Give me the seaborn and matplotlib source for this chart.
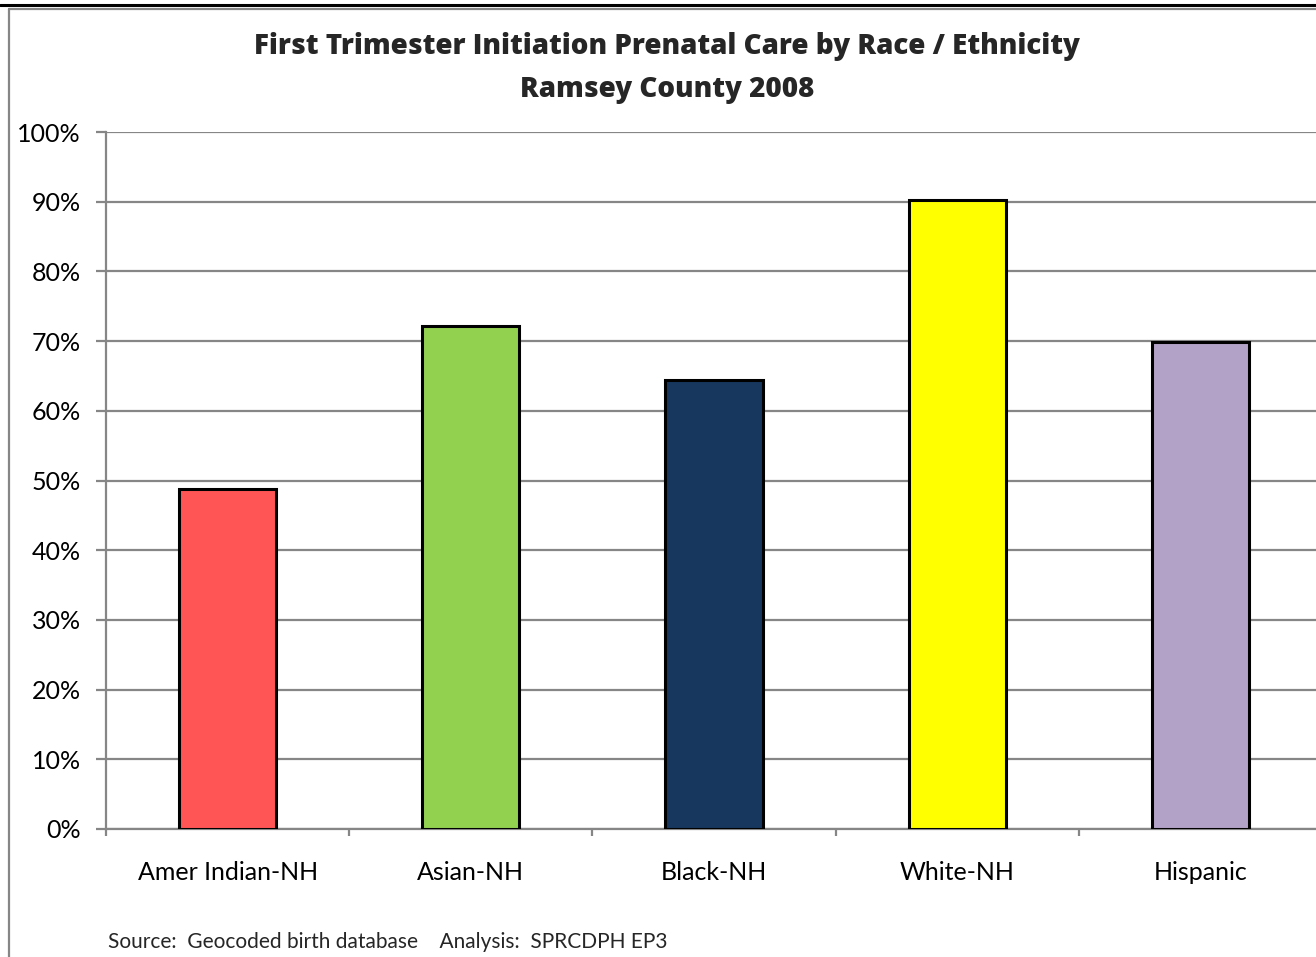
import matplotlib
matplotlib.use("Agg")
import matplotlib.pyplot as plt
from matplotlib.lines import Line2D
from matplotlib.ticker import FixedLocator, PercentFormatter
import seaborn as sns
import pandas as pd

# Percent of births with prenatal care begun in the first trimester
groups = ["Amer Indian-NH", "Asian-NH", "Black-NH", "White-NH", "Hispanic"]
pct = [48.8, 72.1, 64.4, 90.3, 69.9]
bar_colors = ["#FF5555", "#92D050", "#17375E", "#FFFF00", "#B3A2C7"]
y_ticks = [0, 10, 20, 30, 40, 50, 60, 70, 80, 90, 100]

title = "First Trimester Initiation Prenatal Care by Race / Ethnicity\nRamsey County 2008"
source = "Source:  Geocoded birth database    Analysis:  SPRCDPH EP3"

df = pd.DataFrame({"group": groups, "pct": pct})

sns.set_style("white")
plt.rcParams["font.family"] = ["Lato", "DejaVu Sans"]

W, H = 1316, 957
fig = plt.figure(figsize=(W / 100, H / 100), dpi=100)
fig.patch.set_facecolor("white")

# plot area in pixel terms: left 106, right 1322 (runs past the edge), top 132, bottom 829
ax = fig.add_axes([106 / W, (H - 829) / H, (1322 - 106) / W, (829 - 132) / H])

sns.barplot(data=df, x="group", y="pct", hue="group", palette=bar_colors,
            order=groups, hue_order=groups, legend=False, saturation=1,
            width=0.4, edgecolor="black", linewidth=2.2, ax=ax, zorder=3)

grid_c = "#868686"
ax.set_ylim(0, 100)
ax.set_xlim(-0.5, len(groups) - 0.5)
ax.yaxis.set_major_locator(FixedLocator(y_ticks))
ax.yaxis.set_major_formatter(PercentFormatter(decimals=0))
ax.grid(axis="y", color=grid_c, linewidth=1.6, zorder=0)
ax.set_axisbelow(True)

for side in ["top", "right"]:
    ax.spines[side].set_visible(False)
for side in ["left", "bottom"]:
    ax.spines[side].set_color(grid_c)
    ax.spines[side].set_linewidth(1.6)

ax.tick_params(axis="y", which="major", direction="out", length=7, width=1.6,
               color=grid_c, pad=11, labelsize=18, labelcolor="black", left=True)
# category labels at centres, tick marks at category boundaries
ax.tick_params(axis="x", which="major", length=0, pad=23, labelsize=18,
               labelcolor="black")
ax.set_xticks([i - 0.5 for i in range(len(groups) + 1)], minor=True)
ax.tick_params(axis="x", which="minor", direction="out", length=5, width=1.6,
               color=grid_c, bottom=True)
ax.set_xlabel("")
ax.set_ylabel("")

fig.text(667 / W, 1 - 68 / H, title, ha="center", va="center",
         fontsize=20, fontweight="heavy", linespacing=1.6,
         family=["Open Sans", "DejaVu Sans"])
fig.text(108 / W, 1 - 942 / H, source, ha="left", va="center", fontsize=15)

# chart frame: dark rule at the top, grey border on the left and top
fig.add_artist(Line2D([0, 1], [1 - 5 / H, 1 - 5 / H], color="black", linewidth=2.2,
                      transform=fig.transFigure))
fig.add_artist(Line2D([9 / W, 1], [1 - 8.5 / H, 1 - 8.5 / H], color=grid_c,
                      linewidth=1.6, transform=fig.transFigure))
fig.add_artist(Line2D([9 / W, 9 / W], [0, 1 - 8.5 / H], color=grid_c,
                      linewidth=1.6, transform=fig.transFigure))

fig.savefig("out.png", dpi=100, facecolor="white")
